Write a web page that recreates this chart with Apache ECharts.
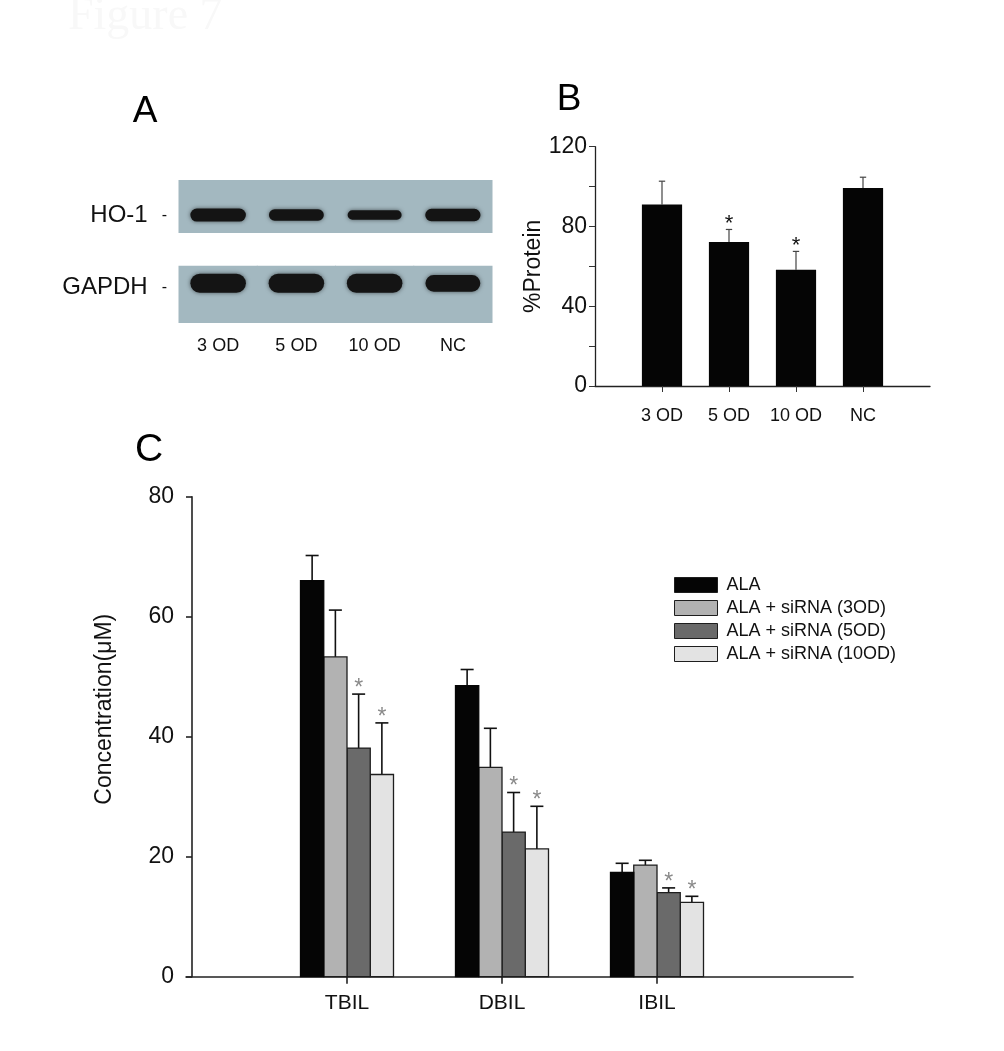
<!DOCTYPE html>
<html>
<head>
<meta charset="utf-8">
<script src="https://cdn.jsdelivr.net/npm/echarts@6/dist/echarts.min.js"></script>
<style>
html,body{margin:0;padding:0;background:#fff;}
#chart{width:1004px;height:1051px;}
</style>
</head>
<body>
<div id="chart"></div>
<script>
// ---------- Panel A: western blot ----------
const lanes = ['3 OD', '5 OD', '10 OD', 'NC'];
const blotRows = ['GAPDH', 'HO-1'];
const ho1Density = [1.0, 0.88, 0.72, 0.95];
const gapdhDensity = [1.0, 1.0, 1.0, 0.88];

// ---------- Panel B: %Protein ----------
const protein = [91.0, 72.2, 58.3, 99.3];
const proteinErr = [11.7, 6.3, 9.2, 5.4];
const proteinSig = [0, 1, 1, 0];
const proteinLabelTicks = [0, 40, 80, 120];

// ---------- Panel C: Concentration ----------
const groups = ['TBIL', 'DBIL', 'IBIL'];
const seriesNames = ['ALA', 'ALA + siRNA (3OD)', 'ALA + siRNA (5OD)', 'ALA + siRNA (10OD)'];
const ala = [66.0, 48.5, 17.4];
const alaErr = [4.2, 2.7, 1.5];
const ala3 = [53.3, 34.9, 18.6];
const ala3Err = [7.8, 6.5, 0.8];
const ala5 = [38.1, 24.1, 14.0];
const ala5Err = [9.0, 6.6, 0.8];
const ala10 = [33.7, 21.3, 12.4];
const ala10Err = [8.6, 7.1, 1.0];
const sigAla = [0, 0, 0];
const sig3 = [0, 0, 0];
const sig5 = [1, 1, 1];
const sig10 = [1, 1, 1];

const FONT = 'Liberation Sans, Arial, sans-serif';
const chart = echarts.init(document.getElementById('chart'));

function blotRender(params, api) {
  const lane = api.value(0), row = api.value(1), d = api.value(2);
  const c = api.coord([lane, row]);
  const sz = api.size([1, 1]);
  const cw = sz[0], rh = sz[1];
  const rowTop = c[1] - rh / 2, rowBot = c[1] + rh / 2;
  let panelY, panelH, bandY, bandH;
  if (row === 1) {
    panelY = rowTop; panelH = 0.74 * rh; bandY = rowTop + 0.49 * rh; bandH = 13 * d;
  } else {
    panelH = 0.8 * rh; panelY = rowBot - panelH; bandY = rowBot - 0.555 * rh; bandH = 19 * d;
  }
  const bandW = 0.71 * cw * (0.9 + 0.1 * d);
  return {
    type: 'group',
    children: [
      { type: 'rect', shape: { x: c[0] - cw / 2 - 0.5, y: panelY, width: cw + 1, height: panelH },
        style: { fill: '#a3b8c0' } },
      { type: 'rect', shape: { x: c[0] - bandW / 2, y: bandY - bandH / 2, width: bandW, height: bandH, r: bandH / 2 },
        style: { fill: '#141414', shadowBlur: 4, shadowColor: 'rgba(0,0,0,0.55)' } }
    ]
  };
}

function barBRender(params, api) {
  const x = api.value(0), v = api.value(1), e = api.value(2), s = api.value(3);
  const unit = api.size([1, 0])[0];
  const bw = 0.6 * unit;
  const top = api.coord([x, v]);
  const base = api.coord([x, 0]);
  const et = api.coord([x, v + e]);
  const capW = 0.095 * unit;
  const ch = [
    { type: 'line', shape: { x1: et[0], y1: top[1], x2: et[0], y2: et[1] }, style: { stroke: '#444', lineWidth: 1.2 } },
    { type: 'line', shape: { x1: et[0] - capW / 2, y1: et[1], x2: et[0] + capW / 2, y2: et[1] }, style: { stroke: '#444', lineWidth: 1.2 } },
    { type: 'rect', shape: { x: top[0] - bw / 2, y: top[1], width: bw, height: base[1] - top[1] }, style: { fill: '#050505' } }
  ];
  if (s) {
    const fs = 22;
    ch.push({ type: 'text', style: { text: '*', x: et[0], y: et[1] - 10 + 0.22 * fs, align: 'center', verticalAlign: 'middle',
      fontSize: fs, fontFamily: FONT, fill: '#111' } });
  }
  return { type: 'group', children: ch };
}

function makeCRender(k, fill, stroke) {
  return function (params, api) {
    const x = api.value(0), v = api.value(1), e = api.value(2), s = api.value(3);
    const bwU = 0.15;
    const off = (k - 1.5) * bwU;
    const cx = x + off;
    const tl = api.coord([cx - bwU / 2, v]);
    const br = api.coord([cx + bwU / 2, 0]);
    const mid = api.coord([cx, v]);
    const et = api.coord([cx, v + e]);
    const capW = 0.084 * api.size([1, 0])[0];
    const ch = [
      { type: 'line', shape: { x1: mid[0], y1: mid[1], x2: et[0], y2: et[1] }, style: { stroke: '#111', lineWidth: 1.6 } },
      { type: 'line', shape: { x1: et[0] - capW / 2, y1: et[1], x2: et[0] + capW / 2, y2: et[1] }, style: { stroke: '#111', lineWidth: 1.6 } },
      { type: 'rect', shape: { x: tl[0], y: tl[1], width: br[0] - tl[0], height: br[1] - tl[1] },
        style: { fill: fill, stroke: stroke, lineWidth: 1.3 } }
    ];
    if (s) {
      const fs = 23;
      ch.push({ type: 'text', style: { text: '*', x: et[0], y: et[1] - 10.5 + 0.22 * fs, align: 'center', verticalAlign: 'middle',
        fontSize: fs, fontFamily: FONT, fill: '#8a8a8a' } });
    }
    return { type: 'group', children: ch };
  };
}

const cSeriesMeans = [ala, ala3, ala5, ala10];
const cSeriesErrs = [alaErr, ala3Err, ala5Err, ala10Err];
const cSeriesSig = [sigAla, sig3, sig5, sig10];
const cFills = ['#050505', '#b2b2b2', '#6a6a6a', '#e3e3e3'];
const cStrokes = ['#050505', '#1e1e1e', '#1e1e1e', '#1e1e1e'];

const cSeries = seriesNames.map((name, k) => ({
  type: 'custom',
  name: name,
  xAxisIndex: 2, yAxisIndex: 2,
  itemStyle: { color: cFills[k], borderColor: '#1e1e1e', borderWidth: 1 },
  renderItem: makeCRender(k, cFills[k], cStrokes[k]),
  data: cSeriesMeans[k].map((v, i) => [i + 1, v, cSeriesErrs[k][i], cSeriesSig[k][i]]),
  z: 10 - k
}));

const blotData = [];
lanes.forEach((l, i) => {
  blotData.push([i, 1, ho1Density[i]]);
  blotData.push([i, 0, gapdhDensity[i]]);
});

const axisLineStyle = { color: '#222', width: 1.3 };

const option = {
  animation: false,
  textStyle: { fontFamily: FONT },
  graphic: [
    { type: 'text', left: 68, top: -6, style: { text: 'Figure 7', fontSize: 46, fontFamily: 'Liberation Serif, serif', fill: '#f8f8f8' } },
    { type: 'text', x: 145, y: 112, style: { text: 'A', fontSize: 37, fontFamily: FONT, fill: '#000', align: 'center', verticalAlign: 'middle' } },
    { type: 'text', x: 569, y: 100, style: { text: 'B', fontSize: 37, fontFamily: FONT, fill: '#000', align: 'center', verticalAlign: 'middle' } },
    { type: 'text', x: 149, y: 450, style: { text: 'C', fontSize: 39, fontFamily: FONT, fill: '#000', align: 'center', verticalAlign: 'middle' } }
  ],
  grid: [
    { left: 179, top: 180, width: 313, height: 143 },
    { left: 595, top: 146.7, width: 335, height: 239.3 },
    { left: 186, top: 496.7, width: 667, height: 480 }
  ],
  legend: {
    left: 669, top: 571, orient: 'vertical',
    itemWidth: 43, itemHeight: 15, itemGap: 5,
    selectedMode: false,
    textStyle: { fontSize: 18, color: '#111', fontFamily: FONT, padding: [0, 0, 0, 4] },
    data: seriesNames.map((n, k) => ({ name: n, icon: 'rect', itemStyle: { color: cFills[k], borderColor: '#1e1e1e', borderWidth: 1 } }))
  },
  xAxis: [
    { gridIndex: 0, type: 'category', data: lanes, axisLine: { show: false }, axisTick: { show: false },
      axisLabel: { fontSize: 18, color: '#111', margin: 14 } },
    { gridIndex: 1, type: 'value', min: 0, max: 5, splitLine: { show: false },
      axisLine: { lineStyle: axisLineStyle },
      axisTick: { customValues: [1, 2, 3, 4], length: 6, lineStyle: { color: '#333' } },
      axisLabel: { customValues: [1, 2, 3, 4], formatter: v => lanes[Math.round(v) - 1], fontSize: 18, color: '#111', margin: 21 } },
    { gridIndex: 2, type: 'value', min: -0.0387, max: 4.2645, splitLine: { show: false },
      axisLine: { lineStyle: { color: '#222', width: 1.6 } },
      axisTick: { customValues: [1, 2, 3], length: 7, lineStyle: { color: '#222', width: 1.6 } },
      axisLabel: { customValues: [1, 2, 3], formatter: v => groups[Math.round(v) - 1], fontSize: 21, color: '#111', margin: 16 } }
  ],
  yAxis: [
    { gridIndex: 0, type: 'category', data: blotRows, axisLine: { show: false }, axisTick: { show: false },
      axisLabel: { margin: 12, formatter: v => '{n|' + v + '}{d|-}',
        rich: { n: { fontSize: 24, color: '#111', fontFamily: FONT }, d: { fontSize: 16, color: '#111', fontFamily: FONT, padding: [0, 0, 0, 14] } } } },
    { gridIndex: 1, type: 'value', min: 0, max: 120, interval: 20, splitLine: { show: false },
      axisLine: { show: true, lineStyle: axisLineStyle },
      axisTick: { show: true, length: 6, lineStyle: { color: '#333' } },
      axisLabel: { customValues: proteinLabelTicks, fontSize: 23, color: '#111', margin: 8 },
      name: '%Protein', nameLocation: 'middle', nameRotate: 90, nameGap: 40,
      nameTextStyle: { fontSize: 23, color: '#111', fontFamily: FONT } },
    { gridIndex: 2, type: 'value', min: 0, max: 80, interval: 20, splitLine: { show: false },
      axisLine: { show: true, lineStyle: { color: '#222', width: 1.6 } },
      axisTick: { show: true, length: 6, lineStyle: { color: '#222', width: 1.6 } },
      axisLabel: { fontSize: 23, color: '#111', margin: 12 },
      name: 'Concentration(μM)', nameLocation: 'middle', nameRotate: 90, nameGap: 70,
      nameTextStyle: { fontSize: 23, color: '#111', fontFamily: FONT, padding: [0, 0, 0, 55] } }
  ],
  series: [
    { type: 'custom', name: 'blot', xAxisIndex: 0, yAxisIndex: 0, renderItem: blotRender, data: blotData },
    { type: 'custom', name: 'protein', xAxisIndex: 1, yAxisIndex: 1, renderItem: barBRender,
      data: protein.map((v, i) => [i + 1, v, proteinErr[i], proteinSig[i]]) }
  ].concat(cSeries)
};
chart.setOption(option);
</script>
</body>
</html>
